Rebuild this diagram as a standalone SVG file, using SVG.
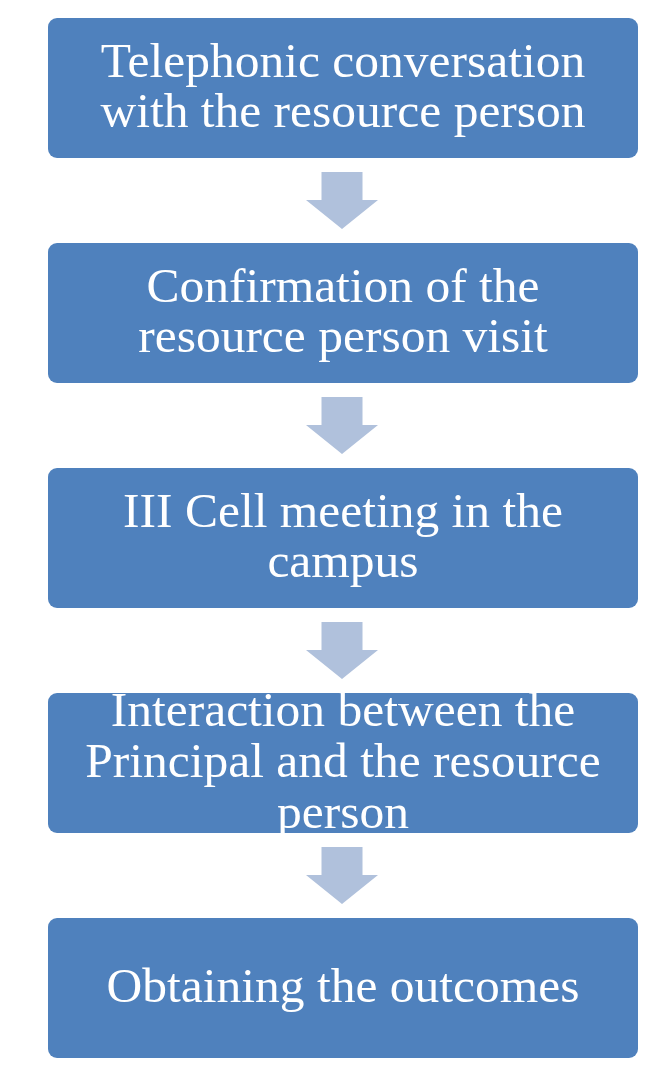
<svg xmlns="http://www.w3.org/2000/svg" width="668" height="1085" viewBox="0 0 668 1085">
<style>
.box{fill:#4F81BD;}
.arr{fill:#B0C1DC;}
.t{font-family:"Liberation Serif","Times New Roman",serif;font-size:49.5px;fill:#FFFFFF;text-anchor:middle;}
</style>
<rect width="668" height="1085" fill="#FFFFFF"/>
<g id="connectors">
<path class="arr" d="M321.5,172 H362.5 V200 H378 L342,229 L306,200 H321.5 Z"/>
<path class="arr" d="M321.5,397 H362.5 V425 H378 L342,454 L306,425 H321.5 Z"/>
<path class="arr" d="M321.5,622 H362.5 V650 H378 L342,679 L306,650 H321.5 Z"/>
<path class="arr" d="M321.5,847 H362.5 V875 H378 L342,904 L306,875 H321.5 Z"/>
</g>
<g id="node1">
<rect class="box" x="48" y="18" width="590" height="140" rx="9"/>
<text class="t" x="343" y="77">Telephonic conversation</text>
<text class="t" x="343" y="127">with the resource person</text>
</g>
<g id="node2">
<rect class="box" x="48" y="243" width="590" height="140" rx="9"/>
<text class="t" x="343" y="302">Confirmation of the</text>
<text class="t" x="343" y="352">resource person visit</text>
</g>
<g id="node3">
<rect class="box" x="48" y="468" width="590" height="140" rx="9"/>
<text class="t" x="343" y="527">III Cell meeting in the</text>
<text class="t" x="343" y="577">campus</text>
</g>
<g id="node4">
<rect class="box" x="48" y="693" width="590" height="140" rx="9"/>
<text class="t" x="343" y="726">Interaction between the</text>
<text class="t" x="343" y="777">Principal and the resource</text>
<text class="t" x="343" y="828">person</text>
</g>
<g id="node5">
<rect class="box" x="48" y="918" width="590" height="140" rx="9"/>
<text class="t" x="343" y="1002">Obtaining the outcomes</text>
</g>
</svg>
